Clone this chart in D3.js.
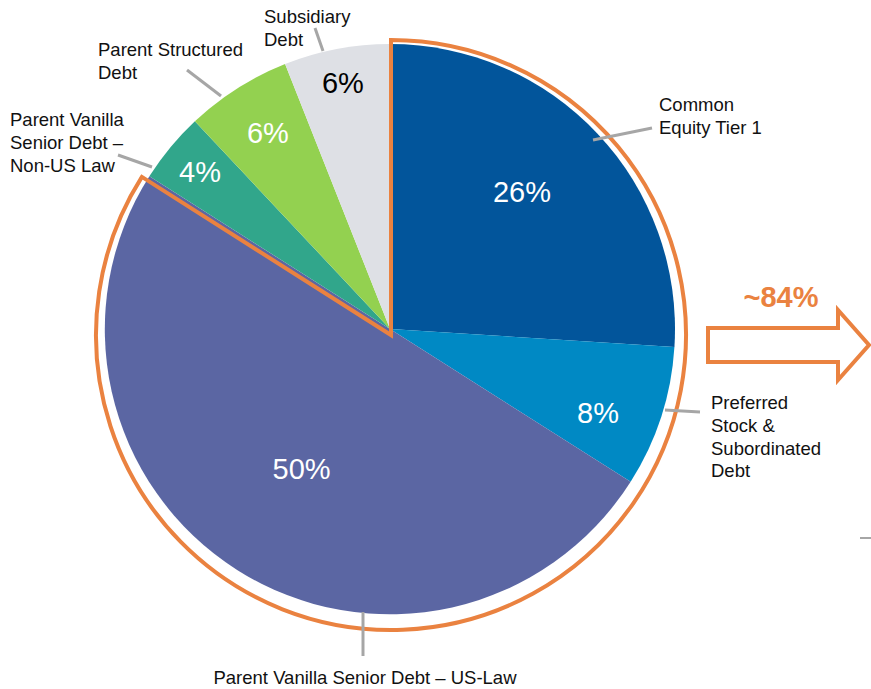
<!DOCTYPE html>
<html>
<head>
<meta charset="utf-8">
<title>Loss-absorbing capacity pie</title>
<script src="https://cdn.jsdelivr.net/npm/d3@7"></script>
<style>
  body { margin: 0; background: #fff; }
  text { font-family: "Liberation Sans", Arial, sans-serif; }
</style>
</head>
<body>
<div id="chart"></div>
<script>
// data
const categories = [
  "Common Equity Tier 1",
  "Preferred Stock & Subordinated Debt",
  "Parent Vanilla Senior Debt – US-Law",
  "Parent Vanilla Senior Debt – Non-US Law",
  "Parent Structured Debt",
  "Subsidiary Debt"
];
const shares = [26, 8, 50, 4, 6, 6];
const labelLines = [
  ["Common", "Equity Tier 1"],
  ["Preferred", "Stock &", "Subordinated", "Debt"],
  ["Parent Vanilla Senior Debt – US-Law"],
  ["Parent Vanilla", "Senior Debt –", "Non-US Law"],
  ["Parent Structured", "Debt"],
  ["Subsidiary", "Debt"]
];
const highlightCount = 3;       // first three slices are outlined
const highlightLabel = "~84%";

// layout
const width = 871, height = 689;
const cx = 390, cy = 329, radius = 285;
const colors = ["#02559b", "#0089c4", "#5b66a3", "#31a68b", "#93d150", "#dee0e5"];
const pctColor = ["#fff", "#fff", "#fff", "#fff", "#fff", "#000"];
const pctRadius = [0.669, 0.786, 0.579, 0.865, 0.811, 0.882];
const pctShift = [-3, 3.8, 0, 0, 0.5, 0];   // degrees, nudges label off the mid angle
const orange = "#ea8240";
const leaderColor = "#a6a6a6";

// leader lines and outside label positions (annotation layout)
const leaders = [
  {x1: 593, y1: 140, x2: 652, y2: 128, tx: 659, ty: 105, anchor: "start"},
  {x1: 665, y1: 410, x2: 700, y2: 412, tx: 711, ty: 403, anchor: "start"},
  {x1: 363, y1: 612, x2: 363, y2: 656, tx: 365, ty: 678, anchor: "middle"},
  {x1: 118, y1: 155, x2: 152, y2: 167, tx: 10,  ty: 120, anchor: "start"},
  {x1: 187, y1: 70,  x2: 221, y2: 96,  tx: 98,  ty: 50,  anchor: "start"},
  {x1: 315, y1: 28,  x2: 323, y2: 51,  tx: 264, ty: 17,  anchor: "start"}
];

const svg = d3.select("#chart").append("svg")
    .attr("width", width)
    .attr("height", height);

const pie = d3.pie().sort(null).value(function(d) { return d; });
const arcs = pie(shares);

const arc = d3.arc().innerRadius(0).outerRadius(radius);

const g = svg.append("g")
    .attr("transform", "translate(" + cx + "," + cy + ")");

g.selectAll("path.slice")
  .data(arcs)
  .enter().append("path")
    .attr("class", "slice")
    .attr("d", arc)
    .attr("fill", function(d, i) { return colors[i]; });

// orange outline around the highlighted slices
const hiEnd = arcs[highlightCount - 1].endAngle;
const outline = d3.arc().innerRadius(0).outerRadius(radius + 10);
svg.append("path")
    .attr("transform", "translate(" + (cx + 1) + "," + (cy + 6) + ")")
    .attr("d", outline({startAngle: 0, endAngle: hiEnd}))
    .attr("fill", "none")
    .attr("stroke", orange)
    .attr("stroke-width", 4)
    .attr("stroke-linejoin", "miter");

// percentage labels inside the slices
g.selectAll("text.pct")
  .data(arcs)
  .enter().append("text")
    .attr("class", "pct")
    .attr("transform", function(d, i) {
        const r = radius * pctRadius[i];
        const a = (d.startAngle + d.endAngle) / 2 + pctShift[i] * Math.PI / 180;
        return "translate(" + (r * Math.sin(a)) + "," + (-r * Math.cos(a)) + ")";
    })
    .attr("text-anchor", "middle")
    .attr("dy", "0.36em")
    .style("font-size", "29px")
    .style("fill", function(d, i) { return pctColor[i]; })
    .text(function(d) { return d.data + "%"; });

// leader lines
svg.selectAll("line.leader")
  .data(leaders)
  .enter().append("line")
    .attr("class", "leader")
    .attr("x1", function(d) { return d.x1; })
    .attr("y1", function(d) { return d.y1; })
    .attr("x2", function(d) { return d.x2; })
    .attr("y2", function(d) { return d.y2; })
    .attr("stroke", leaderColor)
    .attr("stroke-width", 3);

// outside category labels
leaders.forEach(function(l, i) {
    const t = svg.append("text")
        .attr("text-anchor", l.anchor)
        .style("font-size", "18.5px")
        .style("fill", "#111");
    labelLines[i].forEach(function(line, j) {
        t.append("tspan")
            .attr("x", l.tx)
            .attr("y", l.ty + j * 22.6)
            .attr("dy", "0.35em")
            .text(line);
    });
});

// arrow with ~84% annotation
const arrowPts = [[708, 328], [838, 328], [838, 310], [869, 345], [838, 380], [838, 362], [708, 362]];
svg.append("path")
    .attr("d", d3.line()(arrowPts) + "Z")
    .attr("fill", "#fff")
    .attr("stroke", orange)
    .attr("stroke-width", 4)
    .attr("stroke-linejoin", "miter");

svg.append("text")
    .attr("x", 781)
    .attr("y", 297)
    .attr("dy", "0.36em")
    .attr("text-anchor", "middle")
    .style("font-size", "29px")
    .style("font-weight", "bold")
    .style("fill", orange)
    .text(highlightLabel);

// small stray tick at right edge
svg.append("line")
    .attr("x1", 860).attr("y1", 538)
    .attr("x2", 871).attr("y2", 538)
    .attr("stroke", "#888")
    .attr("stroke-width", 1.5);
</script>
</body>
</html>
